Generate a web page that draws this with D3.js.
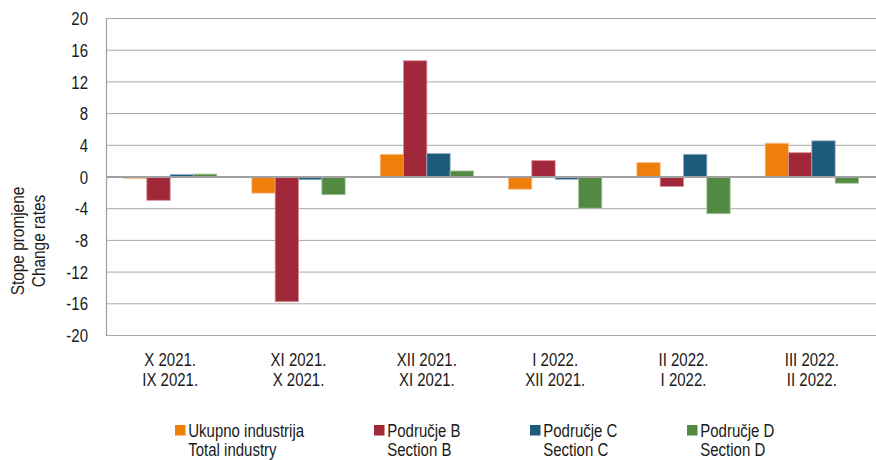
<!DOCTYPE html>
<html>
<head>
<meta charset="utf-8">
<script src="https://cdn.jsdelivr.net/npm/d3@7"></script>
<style>
html,body{margin:0;padding:0;background:#fff;}
svg{display:block;}
text{font-family:"Liberation Sans",Arial,sans-serif;fill:#1a1a1a;}
</style>
</head>
<body>
<svg id="chart" width="876" height="460"></svg>
<script>
// ---- data ----
const categoriesLine1 = ["X 2021.", "XI 2021.", "XII 2021.", "I 2022.", "II 2022.", "III 2022."];
const categoriesLine2 = ["IX 2021.", "X 2021.", "XI 2021.", "XII 2021.", "I 2022.", "II 2022."];
const seriesNamesHr = ["Ukupno industrija", "Područje B", "Područje C", "Područje D"];
const seriesNamesEn = ["Total industry", "Section B", "Section C", "Section D"];
const totalIndustry = [-0.25, -2.1, 2.8, -1.6, 1.75, 4.2];
const sectionB = [-3.0, -15.8, 14.6, 2.0, -1.25, 3.0];
const sectionC = [0.25, -0.4, 2.9, -0.35, 2.8, 4.5];
const sectionD = [0.3, -2.3, 0.7, -4.0, -4.7, -0.85];
const yTicks = [20, 16, 12, 8, 4, 0, -4, -8, -12, -16, -20];

// ---- styles / layout ----
const colors = ["#EE7F0B", "#A02838", "#1E5A7B", "#538A43"];
const strokes = ["#F8C08A", "#D88A95", "#8DB0C6", "#A9C9A0"];
const plot = {left: 106, right: 876, top: 18, bottom: 335};
const legendX = [175, 374, 530, 687];
const fontSize = 18.5;
const squeeze = 0.81; // narrow-font look

const seriesValues = [totalIndustry, sectionB, sectionC, sectionD];
const idx = d3.range(categoriesLine1.length);

const svg = d3.select("#chart");

const x0 = d3.scaleBand().domain(idx).range([plot.left, plot.right]).paddingInner(0).paddingOuter(0);
const x1 = d3.scaleBand().domain(d3.range(seriesValues.length)).range([0, x0.bandwidth()]).paddingInner(0).paddingOuter(0.75);
const y = d3.scaleLinear().domain([-20, 20]).range([plot.bottom, plot.top]);

// gridlines
svg.append("g").selectAll("line").data(yTicks.filter(t => t !== 0)).join("line")
  .attr("x1", plot.left).attr("x2", plot.right)
  .attr("y1", d => y(d) + 0.5).attr("y2", d => y(d) + 0.5)
  .attr("stroke", "#A8A8A8").attr("stroke-width", 1);

// y axis (labels)
const yAxis = d3.axisLeft(y).tickValues(yTicks).tickSize(0).tickPadding(18).tickFormat(d => String(d));
const gy = svg.append("g").attr("transform", `translate(${plot.left},0)`).call(yAxis);
gy.select(".domain").remove();
gy.selectAll("text")
  .attr("x", 0).attr("dy", "0.36em")
  .attr("transform", `translate(-18,0) scale(${squeeze},1)`)
  .attr("fill", "#1a1a1a")
  .style("font-size", fontSize + "px")
  .style("font-family", '"Liberation Sans",Arial,sans-serif');

// left axis line
svg.append("line").attr("x1", plot.left + 0.5).attr("x2", plot.left + 0.5)
  .attr("y1", plot.top).attr("y2", plot.bottom + 1).attr("stroke", "#A0A0A0").attr("stroke-width", 1.2);

// bars
const groups = svg.append("g").selectAll("g").data(idx).join("g")
  .attr("transform", i => `translate(${x0(i)},0)`);
groups.selectAll("rect").data(i => seriesValues.map((s, k) => ({k, v: s[i]}))).join("rect")
  .attr("x", d => x1(d.k))
  .attr("width", x1.bandwidth())
  .attr("y", d => y(Math.max(0, d.v)))
  .attr("height", d => Math.abs(y(d.v) - y(0)))
  .attr("fill", d => colors[d.k])
  .attr("stroke", d => strokes[d.k])
  .attr("stroke-width", 0.8);

// zero line
svg.append("line").attr("x1", plot.left).attr("x2", plot.right)
  .attr("y1", y(0) + 0.5).attr("y2", y(0) + 0.5)
  .attr("stroke", "#A0A0A0").attr("stroke-width", 2);

// x axis labels
const xl = svg.append("g").selectAll("text").data(idx).join("text")
  .attr("transform", i => `translate(${x0(i) + x0.bandwidth() / 2},0) scale(${squeeze},1)`)
  .attr("text-anchor", "middle")
  .style("font-size", fontSize + "px");
xl.append("tspan").attr("x", 0).attr("y", 366).text(i => categoriesLine1[i]);
xl.append("tspan").attr("x", 0).attr("y", 386).text(i => categoriesLine2[i]);

// y axis title
const yt = svg.append("text").attr("transform", `translate(24,241) rotate(-90) scale(${squeeze},1)`)
  .attr("text-anchor", "middle").style("font-size", "19px");
yt.append("tspan").attr("x", 0).attr("y", 0).text("Stope promjene");
yt.append("tspan").attr("x", 0).attr("y", 21).text("Change rates");

// legend
const lg = svg.append("g").selectAll("g").data(d3.range(seriesNamesHr.length)).join("g")
  .attr("transform", k => `translate(${legendX[k]},0)`);
lg.append("rect").attr("x", 0).attr("y", 425).attr("width", 10.5).attr("height", 10.5).attr("fill", k => colors[k]);
const lt = lg.append("text").attr("transform", `translate(13.3,0) scale(${squeeze},1)`).style("font-size", fontSize + "px");
lt.append("tspan").attr("x", 0).attr("y", 437.5).text(k => seriesNamesHr[k]);
lt.append("tspan").attr("x", 0).attr("y", 456).text(k => seriesNamesEn[k]);
</script>
</body>
</html>
